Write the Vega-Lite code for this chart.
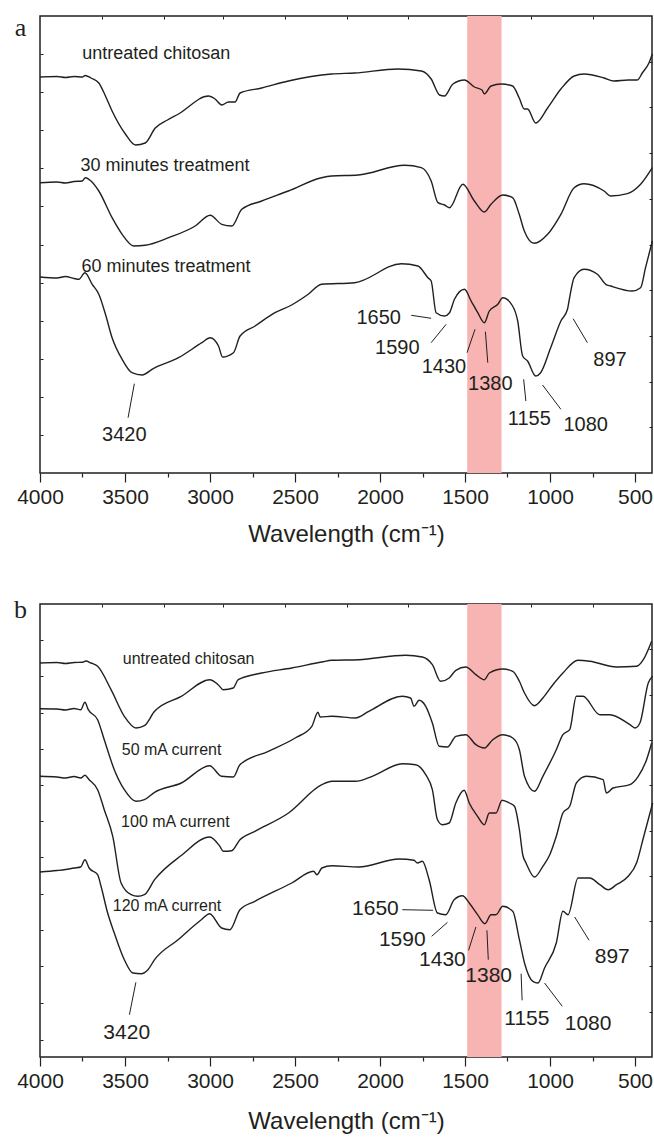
{
  "$schema": "https://vega.github.io/schema/vega-lite/v6.json",
  "padding": {"left": 12, "top": 13, "right": 2, "bottom": 2},
  "background": "white",
  "config": {
    "view": {"stroke": "#231f20", "strokeWidth": 1.5},
    "axis": {"grid": false},
    "text": {"font": "Liberation Sans", "color": "#231f20"}
  },
  "datasets": {
    "band": [{"lo": 1285, "hi": 1487}],
    "specA": [
      {"s": "untreated", "wn": 4000, "t": 396}, {"s": "untreated", "wn": 3900, "t": 396.5}, {"s": "untreated", "wn": 3850, "t": 395.5}, {"s": "untreated", "wn": 3800, "t": 396.5}, {"s": "untreated", "wn": 3750, "t": 396}, {"s": "untreated", "wn": 3735, "t": 397.5}, {"s": "untreated", "wn": 3700, "t": 395}, {"s": "untreated", "wn": 3654, "t": 390}, {"s": "untreated", "wn": 3615, "t": 377}, {"s": "untreated", "wn": 3576, "t": 362}, {"s": "untreated", "wn": 3498, "t": 339}, {"s": "untreated", "wn": 3439, "t": 328}, {"s": "untreated", "wn": 3381, "t": 330}, {"s": "untreated", "wn": 3322, "t": 345}, {"s": "untreated", "wn": 3250, "t": 353}, {"s": "untreated", "wn": 3185, "t": 359}, {"s": "untreated", "wn": 3009, "t": 377}, {"s": "untreated", "wn": 2970, "t": 374}, {"s": "untreated", "wn": 2931, "t": 368}, {"s": "untreated", "wn": 2891, "t": 371}, {"s": "untreated", "wn": 2853, "t": 371}, {"s": "untreated", "wn": 2823, "t": 380}, {"s": "untreated", "wn": 2696, "t": 385}, {"s": "untreated", "wn": 2539, "t": 392}, {"s": "untreated", "wn": 2285, "t": 399}, {"s": "untreated", "wn": 2149, "t": 400}, {"s": "untreated", "wn": 1894, "t": 404}, {"s": "untreated", "wn": 1757, "t": 402}, {"s": "untreated", "wn": 1699, "t": 394}, {"s": "untreated", "wn": 1650, "t": 378}, {"s": "untreated", "wn": 1621, "t": 377}, {"s": "untreated", "wn": 1571, "t": 389}, {"s": "untreated", "wn": 1503, "t": 393}, {"s": "untreated", "wn": 1445, "t": 386}, {"s": "untreated", "wn": 1400, "t": 383}, {"s": "untreated", "wn": 1386, "t": 379}, {"s": "untreated", "wn": 1347, "t": 387}, {"s": "untreated", "wn": 1288, "t": 389}, {"s": "untreated", "wn": 1220, "t": 387}, {"s": "untreated", "wn": 1181, "t": 375}, {"s": "untreated", "wn": 1151, "t": 364}, {"s": "untreated", "wn": 1132, "t": 364}, {"s": "untreated", "wn": 1084, "t": 350}, {"s": "untreated", "wn": 1014, "t": 365}, {"s": "untreated", "wn": 936, "t": 384}, {"s": "untreated", "wn": 858, "t": 397}, {"s": "untreated", "wn": 800, "t": 399}, {"s": "untreated", "wn": 682, "t": 395}, {"s": "untreated", "wn": 624, "t": 392}, {"s": "untreated", "wn": 540, "t": 393}, {"s": "untreated", "wn": 486, "t": 393}, {"s": "untreated", "wn": 457, "t": 400}, {"s": "untreated", "wn": 418, "t": 410}, {"s": "untreated", "wn": 398, "t": 419},
      {"s": "30min", "wn": 4000, "t": 290.3}, {"s": "30min", "wn": 3900, "t": 291}, {"s": "30min", "wn": 3850, "t": 290}, {"s": "30min", "wn": 3800, "t": 291.5}, {"s": "30min", "wn": 3752, "t": 292}, {"s": "30min", "wn": 3733, "t": 295.3}, {"s": "30min", "wn": 3700, "t": 292}, {"s": "30min", "wn": 3654, "t": 282}, {"s": "30min", "wn": 3576, "t": 255.3}, {"s": "30min", "wn": 3517, "t": 238.7}, {"s": "30min", "wn": 3449, "t": 227}, {"s": "30min", "wn": 3381, "t": 227.7}, {"s": "30min", "wn": 3243, "t": 235.3}, {"s": "30min", "wn": 3087, "t": 247}, {"s": "30min", "wn": 2999, "t": 257.7}, {"s": "30min", "wn": 2931, "t": 248.7}, {"s": "30min", "wn": 2872, "t": 247}, {"s": "30min", "wn": 2813, "t": 263.7}, {"s": "30min", "wn": 2696, "t": 272}, {"s": "30min", "wn": 2539, "t": 282}, {"s": "30min", "wn": 2344, "t": 295.3}, {"s": "30min", "wn": 2285, "t": 297}, {"s": "30min", "wn": 2129, "t": 298}, {"s": "30min", "wn": 1855, "t": 307.7}, {"s": "30min", "wn": 1757, "t": 305.3}, {"s": "30min", "wn": 1699, "t": 292}, {"s": "30min", "wn": 1659, "t": 270.3}, {"s": "30min", "wn": 1620, "t": 268}, {"s": "30min", "wn": 1591, "t": 265.3}, {"s": "30min", "wn": 1513, "t": 288.7}, {"s": "30min", "wn": 1445, "t": 272}, {"s": "30min", "wn": 1386, "t": 261}, {"s": "30min", "wn": 1347, "t": 268.7}, {"s": "30min", "wn": 1278, "t": 278}, {"s": "30min", "wn": 1220, "t": 275.3}, {"s": "30min", "wn": 1181, "t": 258.7}, {"s": "30min", "wn": 1151, "t": 242}, {"s": "30min", "wn": 1093, "t": 229.7}, {"s": "30min", "wn": 1014, "t": 238.7}, {"s": "30min", "wn": 936, "t": 258.7}, {"s": "30min", "wn": 858, "t": 285.3}, {"s": "30min", "wn": 800, "t": 289.3}, {"s": "30min", "wn": 682, "t": 282}, {"s": "30min", "wn": 643, "t": 277}, {"s": "30min", "wn": 545, "t": 279.3}, {"s": "30min", "wn": 467, "t": 288.7}, {"s": "30min", "wn": 398, "t": 305.3},
      {"s": "60min", "wn": 4000, "t": 196}, {"s": "60min", "wn": 3900, "t": 195}, {"s": "60min", "wn": 3850, "t": 196.5}, {"s": "60min", "wn": 3800, "t": 194.5}, {"s": "60min", "wn": 3771, "t": 193.7}, {"s": "60min", "wn": 3736, "t": 200.3}, {"s": "60min", "wn": 3693, "t": 188.7}, {"s": "60min", "wn": 3654, "t": 178.7}, {"s": "60min", "wn": 3615, "t": 158.7}, {"s": "60min", "wn": 3576, "t": 135.3}, {"s": "60min", "wn": 3517, "t": 113.7}, {"s": "60min", "wn": 3459, "t": 100.3}, {"s": "60min", "wn": 3400, "t": 98}, {"s": "60min", "wn": 3331, "t": 104.7}, {"s": "60min", "wn": 3185, "t": 115.3}, {"s": "60min", "wn": 3048, "t": 130.3}, {"s": "60min", "wn": 2999, "t": 135.3}, {"s": "60min", "wn": 2950, "t": 127}, {"s": "60min", "wn": 2926, "t": 116}, {"s": "60min", "wn": 2862, "t": 120.3}, {"s": "60min", "wn": 2823, "t": 137}, {"s": "60min", "wn": 2735, "t": 147}, {"s": "60min", "wn": 2618, "t": 160.3}, {"s": "60min", "wn": 2520, "t": 168}, {"s": "60min", "wn": 2422, "t": 178.7}, {"s": "60min", "wn": 2344, "t": 188.7}, {"s": "60min", "wn": 2149, "t": 190.3}, {"s": "60min", "wn": 1874, "t": 209.3}, {"s": "60min", "wn": 1777, "t": 207}, {"s": "60min", "wn": 1718, "t": 195.3}, {"s": "60min", "wn": 1699, "t": 192}, {"s": "60min", "wn": 1670, "t": 160.3}, {"s": "60min", "wn": 1621, "t": 157}, {"s": "60min", "wn": 1591, "t": 160.3}, {"s": "60min", "wn": 1562, "t": 173.7}, {"s": "60min", "wn": 1503, "t": 183.7}, {"s": "60min", "wn": 1464, "t": 172}, {"s": "60min", "wn": 1425, "t": 160.3}, {"s": "60min", "wn": 1386, "t": 150.3}, {"s": "60min", "wn": 1357, "t": 162}, {"s": "60min", "wn": 1307, "t": 168.7}, {"s": "60min", "wn": 1278, "t": 175.3}, {"s": "60min", "wn": 1220, "t": 167}, {"s": "60min", "wn": 1190, "t": 152}, {"s": "60min", "wn": 1161, "t": 117}, {"s": "60min", "wn": 1132, "t": 112}, {"s": "60min", "wn": 1084, "t": 97}, {"s": "60min", "wn": 1055, "t": 100.3}, {"s": "60min", "wn": 996, "t": 125.3}, {"s": "60min", "wn": 936, "t": 152}, {"s": "60min", "wn": 897, "t": 163.7}, {"s": "60min", "wn": 888, "t": 172}, {"s": "60min", "wn": 858, "t": 195.3}, {"s": "60min", "wn": 800, "t": 203.7}, {"s": "60min", "wn": 721, "t": 198.7}, {"s": "60min", "wn": 672, "t": 188.7}, {"s": "60min", "wn": 643, "t": 187}, {"s": "60min", "wn": 516, "t": 182}, {"s": "60min", "wn": 467, "t": 185.3}, {"s": "60min", "wn": 438, "t": 205.3}, {"s": "60min", "wn": 398, "t": 232}
    ],
    "specB": [
      {"s": "untreated", "wn": 4000, "t": 394}, {"s": "untreated", "wn": 3900, "t": 394.5}, {"s": "untreated", "wn": 3850, "t": 393.5}, {"s": "untreated", "wn": 3800, "t": 394.5}, {"s": "untreated", "wn": 3750, "t": 394.7}, {"s": "untreated", "wn": 3730, "t": 396}, {"s": "untreated", "wn": 3700, "t": 394}, {"s": "untreated", "wn": 3661, "t": 390.7}, {"s": "untreated", "wn": 3582, "t": 367.3}, {"s": "untreated", "wn": 3504, "t": 340.7}, {"s": "untreated", "wn": 3435, "t": 329}, {"s": "untreated", "wn": 3386, "t": 331.3}, {"s": "untreated", "wn": 3326, "t": 345.7}, {"s": "untreated", "wn": 3169, "t": 360.7}, {"s": "untreated", "wn": 3002, "t": 377.3}, {"s": "untreated", "wn": 2952, "t": 372.3}, {"s": "untreated", "wn": 2922, "t": 367.3}, {"s": "untreated", "wn": 2863, "t": 369}, {"s": "untreated", "wn": 2834, "t": 377.3}, {"s": "untreated", "wn": 2696, "t": 384}, {"s": "untreated", "wn": 2519, "t": 389}, {"s": "untreated", "wn": 2342, "t": 395}, {"s": "untreated", "wn": 2283, "t": 396.7}, {"s": "untreated", "wn": 2125, "t": 397.3}, {"s": "untreated", "wn": 1849, "t": 401.7}, {"s": "untreated", "wn": 1751, "t": 400}, {"s": "untreated", "wn": 1692, "t": 392.3}, {"s": "untreated", "wn": 1643, "t": 375.7}, {"s": "untreated", "wn": 1593, "t": 379}, {"s": "untreated", "wn": 1554, "t": 386.7}, {"s": "untreated", "wn": 1495, "t": 390}, {"s": "untreated", "wn": 1436, "t": 382.3}, {"s": "untreated", "wn": 1386, "t": 377.3}, {"s": "untreated", "wn": 1357, "t": 384}, {"s": "untreated", "wn": 1278, "t": 388}, {"s": "untreated", "wn": 1219, "t": 385.7}, {"s": "untreated", "wn": 1180, "t": 375.7}, {"s": "untreated", "wn": 1150, "t": 364}, {"s": "untreated", "wn": 1091, "t": 351.3}, {"s": "untreated", "wn": 1042, "t": 359}, {"s": "untreated", "wn": 983, "t": 372.3}, {"s": "untreated", "wn": 924, "t": 384}, {"s": "untreated", "wn": 835, "t": 396.7}, {"s": "untreated", "wn": 766, "t": 395.7}, {"s": "untreated", "wn": 609, "t": 390}, {"s": "untreated", "wn": 491, "t": 390.7}, {"s": "untreated", "wn": 451, "t": 397.3}, {"s": "untreated", "wn": 402, "t": 415.7},
      {"s": "50mA", "wn": 4000, "t": 348.3}, {"s": "50mA", "wn": 3900, "t": 348}, {"s": "50mA", "wn": 3850, "t": 347}, {"s": "50mA", "wn": 3800, "t": 348.5}, {"s": "50mA", "wn": 3760, "t": 347.3}, {"s": "50mA", "wn": 3736, "t": 354.7}, {"s": "50mA", "wn": 3716, "t": 347.3}, {"s": "50mA", "wn": 3661, "t": 337.3}, {"s": "50mA", "wn": 3622, "t": 317.3}, {"s": "50mA", "wn": 3563, "t": 287.3}, {"s": "50mA", "wn": 3504, "t": 267.3}, {"s": "50mA", "wn": 3435, "t": 255.7}, {"s": "50mA", "wn": 3386, "t": 257.3}, {"s": "50mA", "wn": 3326, "t": 264.7}, {"s": "50mA", "wn": 3169, "t": 274}, {"s": "50mA", "wn": 3002, "t": 291.3}, {"s": "50mA", "wn": 2932, "t": 280.7}, {"s": "50mA", "wn": 2863, "t": 280}, {"s": "50mA", "wn": 2824, "t": 292.3}, {"s": "50mA", "wn": 2657, "t": 305.7}, {"s": "50mA", "wn": 2499, "t": 319}, {"s": "50mA", "wn": 2401, "t": 330.7}, {"s": "50mA", "wn": 2365, "t": 344.7}, {"s": "50mA", "wn": 2352, "t": 340}, {"s": "50mA", "wn": 2283, "t": 340.7}, {"s": "50mA", "wn": 2145, "t": 339}, {"s": "50mA", "wn": 2066, "t": 345.7}, {"s": "50mA", "wn": 1869, "t": 360.7}, {"s": "50mA", "wn": 1820, "t": 359}, {"s": "50mA", "wn": 1800, "t": 350.7}, {"s": "50mA", "wn": 1770, "t": 356.7}, {"s": "50mA", "wn": 1731, "t": 350.7}, {"s": "50mA", "wn": 1692, "t": 334}, {"s": "50mA", "wn": 1652, "t": 310.7}, {"s": "50mA", "wn": 1603, "t": 310}, {"s": "50mA", "wn": 1554, "t": 320.7}, {"s": "50mA", "wn": 1495, "t": 322.3}, {"s": "50mA", "wn": 1436, "t": 312.3}, {"s": "50mA", "wn": 1386, "t": 309}, {"s": "50mA", "wn": 1337, "t": 317.3}, {"s": "50mA", "wn": 1278, "t": 322.3}, {"s": "50mA", "wn": 1219, "t": 319}, {"s": "50mA", "wn": 1180, "t": 307.3}, {"s": "50mA", "wn": 1150, "t": 280.7}, {"s": "50mA", "wn": 1091, "t": 265.7}, {"s": "50mA", "wn": 1042, "t": 280.7}, {"s": "50mA", "wn": 963, "t": 307.3}, {"s": "50mA", "wn": 924, "t": 322.3}, {"s": "50mA", "wn": 884, "t": 327.3}, {"s": "50mA", "wn": 845, "t": 360.7}, {"s": "50mA", "wn": 806, "t": 360.7}, {"s": "50mA", "wn": 707, "t": 342.3}, {"s": "50mA", "wn": 648, "t": 342.3}, {"s": "50mA", "wn": 530, "t": 332.3}, {"s": "50mA", "wn": 500, "t": 329}, {"s": "50mA", "wn": 471, "t": 334}, {"s": "50mA", "wn": 422, "t": 374}, {"s": "50mA", "wn": 396, "t": 380.7},
      {"s": "100mA", "wn": 4000, "t": 280.7}, {"s": "100mA", "wn": 3900, "t": 280}, {"s": "100mA", "wn": 3850, "t": 279}, {"s": "100mA", "wn": 3800, "t": 280.5}, {"s": "100mA", "wn": 3760, "t": 279}, {"s": "100mA", "wn": 3736, "t": 281.7}, {"s": "100mA", "wn": 3711, "t": 277.3}, {"s": "100mA", "wn": 3661, "t": 267.3}, {"s": "100mA", "wn": 3622, "t": 247.3}, {"s": "100mA", "wn": 3572, "t": 220.7}, {"s": "100mA", "wn": 3523, "t": 174}, {"s": "100mA", "wn": 3464, "t": 162.3}, {"s": "100mA", "wn": 3425, "t": 160.7}, {"s": "100mA", "wn": 3386, "t": 162.3}, {"s": "100mA", "wn": 3326, "t": 177.3}, {"s": "100mA", "wn": 3169, "t": 201.5}, {"s": "100mA", "wn": 3002, "t": 220}, {"s": "100mA", "wn": 2942, "t": 210.7}, {"s": "100mA", "wn": 2922, "t": 205.7}, {"s": "100mA", "wn": 2873, "t": 206.3}, {"s": "100mA", "wn": 2824, "t": 217.3}, {"s": "100mA", "wn": 2736, "t": 225.7}, {"s": "100mA", "wn": 2538, "t": 244}, {"s": "100mA", "wn": 2342, "t": 272.3}, {"s": "100mA", "wn": 2283, "t": 275.7}, {"s": "100mA", "wn": 2145, "t": 275.7}, {"s": "100mA", "wn": 2046, "t": 280.7}, {"s": "100mA", "wn": 1869, "t": 293.3}, {"s": "100mA", "wn": 1790, "t": 292.3}, {"s": "100mA", "wn": 1731, "t": 282.3}, {"s": "100mA", "wn": 1692, "t": 267.3}, {"s": "100mA", "wn": 1662, "t": 237.3}, {"s": "100mA", "wn": 1633, "t": 232.3}, {"s": "100mA", "wn": 1593, "t": 234}, {"s": "100mA", "wn": 1554, "t": 254}, {"s": "100mA", "wn": 1505, "t": 266.7}, {"s": "100mA", "wn": 1475, "t": 254}, {"s": "100mA", "wn": 1426, "t": 240.7}, {"s": "100mA", "wn": 1386, "t": 232.3}, {"s": "100mA", "wn": 1357, "t": 244}, {"s": "100mA", "wn": 1318, "t": 244}, {"s": "100mA", "wn": 1282, "t": 256.7}, {"s": "100mA", "wn": 1239, "t": 254}, {"s": "100mA", "wn": 1209, "t": 250.7}, {"s": "100mA", "wn": 1180, "t": 227.3}, {"s": "100mA", "wn": 1160, "t": 202}, {"s": "100mA", "wn": 1141, "t": 194}, {"s": "100mA", "wn": 1091, "t": 180}, {"s": "100mA", "wn": 1042, "t": 190.7}, {"s": "100mA", "wn": 1002, "t": 202}, {"s": "100mA", "wn": 963, "t": 220.7}, {"s": "100mA", "wn": 924, "t": 244}, {"s": "100mA", "wn": 884, "t": 250.7}, {"s": "100mA", "wn": 845, "t": 274}, {"s": "100mA", "wn": 786, "t": 280.7}, {"s": "100mA", "wn": 688, "t": 277.3}, {"s": "100mA", "wn": 668, "t": 264}, {"s": "100mA", "wn": 629, "t": 269}, {"s": "100mA", "wn": 530, "t": 272.3}, {"s": "100mA", "wn": 481, "t": 280.7}, {"s": "100mA", "wn": 432, "t": 297.3}, {"s": "100mA", "wn": 402, "t": 314},
      {"s": "120mA", "wn": 4000, "t": 185}, {"s": "120mA", "wn": 3900, "t": 186.5}, {"s": "120mA", "wn": 3850, "t": 187.5}, {"s": "120mA", "wn": 3800, "t": 189}, {"s": "120mA", "wn": 3760, "t": 190}, {"s": "120mA", "wn": 3736, "t": 197.3}, {"s": "120mA", "wn": 3711, "t": 189}, {"s": "120mA", "wn": 3661, "t": 182.3}, {"s": "120mA", "wn": 3641, "t": 170.7}, {"s": "120mA", "wn": 3602, "t": 144}, {"s": "120mA", "wn": 3563, "t": 124}, {"s": "120mA", "wn": 3504, "t": 97.3}, {"s": "120mA", "wn": 3454, "t": 84}, {"s": "120mA", "wn": 3405, "t": 83.3}, {"s": "120mA", "wn": 3365, "t": 87.3}, {"s": "120mA", "wn": 3326, "t": 97.3}, {"s": "120mA", "wn": 3188, "t": 117.3}, {"s": "120mA", "wn": 3051, "t": 137.3}, {"s": "120mA", "wn": 3002, "t": 143.3}, {"s": "120mA", "wn": 2932, "t": 129}, {"s": "120mA", "wn": 2883, "t": 127.3}, {"s": "120mA", "wn": 2824, "t": 147.3}, {"s": "120mA", "wn": 2736, "t": 155.7}, {"s": "120mA", "wn": 2519, "t": 174}, {"s": "120mA", "wn": 2391, "t": 185.7}, {"s": "120mA", "wn": 2371, "t": 182.3}, {"s": "120mA", "wn": 2342, "t": 189}, {"s": "120mA", "wn": 2283, "t": 191.3}, {"s": "120mA", "wn": 2125, "t": 190}, {"s": "120mA", "wn": 1888, "t": 198}, {"s": "120mA", "wn": 1800, "t": 196.7}, {"s": "120mA", "wn": 1780, "t": 194}, {"s": "120mA", "wn": 1751, "t": 195.7}, {"s": "120mA", "wn": 1711, "t": 177.3}, {"s": "120mA", "wn": 1662, "t": 144}, {"s": "120mA", "wn": 1613, "t": 142.3}, {"s": "120mA", "wn": 1564, "t": 157.3}, {"s": "120mA", "wn": 1515, "t": 161.3}, {"s": "120mA", "wn": 1475, "t": 154}, {"s": "120mA", "wn": 1426, "t": 142.3}, {"s": "120mA", "wn": 1383, "t": 133.3}, {"s": "120mA", "wn": 1347, "t": 142.3}, {"s": "120mA", "wn": 1318, "t": 142.3}, {"s": "120mA", "wn": 1278, "t": 150.7}, {"s": "120mA", "wn": 1219, "t": 145.7}, {"s": "120mA", "wn": 1180, "t": 117.3}, {"s": "120mA", "wn": 1150, "t": 94}, {"s": "120mA", "wn": 1101, "t": 75.7}, {"s": "120mA", "wn": 1071, "t": 74}, {"s": "120mA", "wn": 1032, "t": 89}, {"s": "120mA", "wn": 963, "t": 114}, {"s": "120mA", "wn": 924, "t": 145.7}, {"s": "120mA", "wn": 894, "t": 142.3}, {"s": "120mA", "wn": 835, "t": 179}, {"s": "120mA", "wn": 766, "t": 179}, {"s": "120mA", "wn": 707, "t": 172.3}, {"s": "120mA", "wn": 658, "t": 167.3}, {"s": "120mA", "wn": 609, "t": 172.3}, {"s": "120mA", "wn": 540, "t": 180.7}, {"s": "120mA", "wn": 491, "t": 194}, {"s": "120mA", "wn": 451, "t": 219}, {"s": "120mA", "wn": 396, "t": 254}
    ],
    "seriesA": [
      {"wn": 3752, "t": 413.7, "label": "untreated chitosan"},
      {"wn": 3762, "t": 302, "label": "30 minutes treatment"},
      {"wn": 3756, "t": 201.3, "label": "60 minutes treatment"}
    ],
    "seriesB": [
      {"wn": 3513, "t": 393, "label": "untreated chitosan"},
      {"wn": 3519, "t": 302.3, "label": "50 mA current"},
      {"wn": 3523, "t": 230, "label": "100 mA current"},
      {"wn": 3572, "t": 145.7, "label": "120 mA current"}
    ],
    "peaksA": [
      {"wn": 2008, "t": 155.3, "label": "1650", "w1": 1816, "t1": 157.7, "w2": 1699, "t2": 154.7},
      {"wn": 1898, "t": 125.3, "label": "1590", "w1": 1699, "t1": 130.3, "w2": 1611, "t2": 148.7},
      {"wn": 1624, "t": 106, "label": "1430", "w1": 1488, "t1": 120.3, "w2": 1441, "t2": 143.7},
      {"wn": 1351, "t": 89.3, "label": "1380", "w1": 1366, "t1": 110.3, "w2": 1380, "t2": 141.3},
      {"wn": 1122, "t": 53.7, "label": "1155", "w1": 1142, "t1": 72, "w2": 1155, "t2": 93.7},
      {"wn": 790, "t": 47.7, "label": "1080", "w1": 936, "t1": 63.7, "w2": 1044, "t2": 88},
      {"wn": 647, "t": 113, "label": "897", "w1": 780, "t1": 130.3, "w2": 864, "t2": 154.3},
      {"wn": 3504, "t": 38, "label": "3420", "w1": 3482, "t1": 55.3, "w2": 3445, "t2": 89.3}
    ],
    "peaksB": [
      {"wn": 2027, "t": 148, "label": "1650", "w1": 1869, "t1": 147.3, "w2": 1688, "t2": 146.7},
      {"wn": 1869, "t": 116.7, "label": "1590", "w1": 1696, "t1": 120.7, "w2": 1603, "t2": 134.7},
      {"wn": 1633, "t": 96.7, "label": "1430", "w1": 1479, "t1": 106.7, "w2": 1436, "t2": 130},
      {"wn": 1361, "t": 81.3, "label": "1380", "w1": 1363, "t1": 97.3, "w2": 1371, "t2": 126.7},
      {"wn": 1136, "t": 38.3, "label": "1155", "w1": 1164, "t1": 56.7, "w2": 1170, "t2": 83.3},
      {"wn": 776, "t": 33.3, "label": "1080", "w1": 928, "t1": 50.7, "w2": 1032, "t2": 74},
      {"wn": 634, "t": 100, "label": "897", "w1": 770, "t1": 116.7, "w2": 855, "t2": 140},
      {"wn": 3490, "t": 24, "label": "3420", "w1": 3474, "t1": 42.3, "w2": 3436, "t2": 74.7}
    ]
  },
  "spacing": 48,
  "vconcat": [
    {
      "width": 612,
      "height": 457,
      "resolve": {"axis": {"x": "independent", "y": "independent"}},
      "layer": [
        {
          "data": {"name": "band"},
          "mark": {"type": "rect", "color": "#f7b4b2"},
          "encoding": {
            "x": {"field": "hi", "type": "quantitative", "scale": {"domain": [400, 4000], "reverse": true, "nice": false, "zero": false}, "axis": null},
            "x2": {"field": "lo"}
          }
        },
        {
          "data": {"name": "specA"},
          "mark": {"type": "line", "color": "#231f20", "strokeWidth": 1.4, "interpolate": "monotone"},
          "encoding": {
            "x": {"field": "wn", "type": "quantitative", "scale": {"domain": [400, 4000], "reverse": true, "nice": false, "zero": false},
              "axis": {"orient": "bottom", "title": "Wavelength (cm⁻¹)", "values": [500, 750, 1000, 1250, 1500, 1750, 2000, 2250, 2500, 2750, 3000, 3250, 3500, 3750, 4000], "format": "d", "labelExpr": "datum.value % 500 === 0 ? datum.label : ''", "domain": false, "tickColor": "#231f20", "tickWidth": 1.2, "tickSize": {"condition": {"test": "datum.value % 500 === 0", "value": 9}, "value": 4}, "labelFont": "Liberation Sans", "labelFontSize": 21, "labelColor": "#231f20", "labelPadding": 4, "labelFlush": false, "labelOverlap": false, "titleFont": "Liberation Sans", "titleFontSize": 24, "titleFontWeight": "normal", "titleColor": "#231f20", "titlePadding": 15}},
            "y": {"field": "t", "type": "quantitative", "scale": {"domain": [0, 457], "nice": false, "zero": false},
              "axis": {"orient": "left", "values": [38.1, 76.2, 114.3, 152.3, 190.4, 228.5, 266.6, 304.7, 342.8, 380.8, 418.9], "labels": false, "domain": false, "tickSize": -3, "tickColor": "#231f20", "title": "a", "titleAngle": 0, "titleX": -20, "titleY": 19.6, "titleAlign": "center", "titleBaseline": "alphabetic", "titleFont": "Liberation Serif", "titleFontSize": 26, "titleFontWeight": "normal", "titleColor": "#231f20"}},
            "detail": {"field": "s", "type": "nominal"}
          }
        },
        {
          "data": {"name": "peaksA"},
          "mark": {"type": "rule", "color": "#231f20", "strokeWidth": 1},
          "encoding": {
            "x": {"field": "w1", "type": "quantitative", "scale": {"domain": [400, 4000], "reverse": true, "nice": false, "zero": false},
              "axis": {"orient": "top", "values": [3634, 3273, 2921, 2560, 2197, 1835, 1483, 1112, 750], "labels": false, "domain": false, "tickSize": -3, "tickColor": "#231f20", "title": null}},
            "x2": {"field": "w2"},
            "y": {"field": "t1", "type": "quantitative", "scale": {"domain": [0, 457], "nice": false, "zero": false},
              "axis": {"orient": "right", "values": [45.7, 91.4, 137.1, 182.8, 228.5, 274.2, 319.9, 365.6, 411.3], "labels": false, "domain": false, "tickSize": -3, "tickColor": "#231f20", "title": null}},
            "y2": {"field": "t2"}
          }
        },
        {
          "data": {"name": "peaksA"},
          "mark": {"type": "text", "fontSize": 20, "align": "center", "baseline": "middle"},
          "encoding": {
            "x": {"field": "wn", "type": "quantitative", "axis": null},
            "y": {"field": "t", "type": "quantitative", "axis": null},
            "text": {"field": "label"}
          }
        },
        {
          "data": {"name": "seriesA"},
          "mark": {"type": "text", "fontSize": 18, "align": "left", "baseline": "alphabetic"},
          "encoding": {
            "x": {"field": "wn", "type": "quantitative", "axis": null},
            "y": {"field": "t", "type": "quantitative", "axis": null},
            "text": {"field": "label"}
          }
        }
      ]
    },
    {
      "width": 612,
      "height": 453,
      "resolve": {"axis": {"x": "independent", "y": "independent"}},
      "layer": [
        {
          "data": {"name": "band"},
          "mark": {"type": "rect", "color": "#f7b4b2"},
          "encoding": {
            "x": {"field": "hi", "type": "quantitative", "scale": {"domain": [400, 4000], "reverse": true, "nice": false, "zero": false}, "axis": null},
            "x2": {"field": "lo"}
          }
        },
        {
          "data": {"name": "specB"},
          "mark": {"type": "line", "color": "#231f20", "strokeWidth": 1.4, "interpolate": "monotone"},
          "encoding": {
            "x": {"field": "wn", "type": "quantitative", "scale": {"domain": [400, 4000], "reverse": true, "nice": false, "zero": false},
              "axis": {"orient": "bottom", "title": "Wavelength (cm⁻¹)", "values": [500, 750, 1000, 1250, 1500, 1750, 2000, 2250, 2500, 2750, 3000, 3250, 3500, 3750, 4000], "format": "d", "labelExpr": "datum.value % 500 === 0 ? datum.label : ''", "domain": false, "tickColor": "#231f20", "tickWidth": 1.2, "tickSize": {"condition": {"test": "datum.value % 500 === 0", "value": 9}, "value": 4}, "labelFont": "Liberation Sans", "labelFontSize": 21, "labelColor": "#231f20", "labelPadding": 4, "labelFlush": false, "labelOverlap": false, "titleFont": "Liberation Sans", "titleFontSize": 24, "titleFontWeight": "normal", "titleColor": "#231f20", "titlePadding": 18}},
            "y": {"field": "t", "type": "quantitative", "scale": {"domain": [0, 453], "nice": false, "zero": false},
              "axis": {"orient": "left", "values": [17, 54, 91, 127, 163, 200, 236, 272, 308, 344, 381, 417], "labels": false, "domain": false, "tickSize": -3, "tickColor": "#231f20", "title": "b", "titleAngle": 0, "titleX": -20, "titleY": 13.3, "titleAlign": "center", "titleBaseline": "alphabetic", "titleFont": "Liberation Serif", "titleFontSize": 26, "titleFontWeight": "normal", "titleColor": "#231f20"}},
            "detail": {"field": "s", "type": "nominal"}
          }
        },
        {
          "data": {"name": "peaksB"},
          "mark": {"type": "rule", "color": "#231f20", "strokeWidth": 1},
          "encoding": {
            "x": {"field": "w1", "type": "quantitative", "scale": {"domain": [400, 4000], "reverse": true, "nice": false, "zero": false},
              "axis": {"orient": "top", "values": [3634, 3273, 2921, 2560, 2197, 1835, 1483, 1112, 750], "labels": false, "domain": false, "tickSize": -3, "tickColor": "#231f20", "title": null}},
            "x2": {"field": "w2"},
            "y": {"field": "t1", "type": "quantitative", "scale": {"domain": [0, 453], "nice": false, "zero": false},
              "axis": {"orient": "right", "values": [45.3, 90.6, 135.9, 181.2, 226.5, 271.8, 317.1, 362.4, 407.7], "labels": false, "domain": false, "tickSize": -3, "tickColor": "#231f20", "title": null}},
            "y2": {"field": "t2"}
          }
        },
        {
          "data": {"name": "peaksB"},
          "mark": {"type": "text", "fontSize": 21, "align": "center", "baseline": "middle"},
          "encoding": {
            "x": {"field": "wn", "type": "quantitative", "axis": null},
            "y": {"field": "t", "type": "quantitative", "axis": null},
            "text": {"field": "label"}
          }
        },
        {
          "data": {"name": "seriesB"},
          "mark": {"type": "text", "fontSize": 16, "align": "left", "baseline": "alphabetic"},
          "encoding": {
            "x": {"field": "wn", "type": "quantitative", "axis": null},
            "y": {"field": "t", "type": "quantitative", "axis": null},
            "text": {"field": "label"}
          }
        }
      ]
    }
  ]
}
